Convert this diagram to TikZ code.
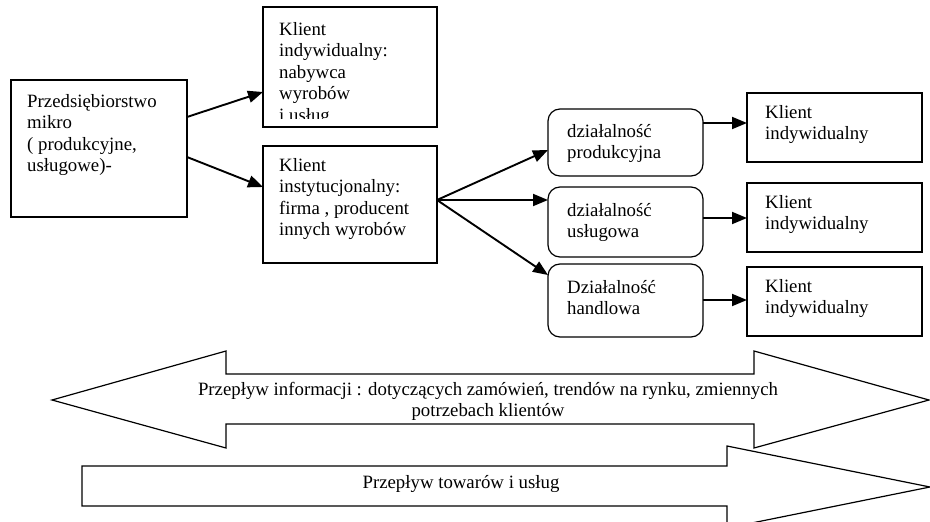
\documentclass[tikz,border=0pt]{standalone}
\usepackage{fontspec}
\setmainfont{Liberation Serif}
\usetikzlibrary{arrows.meta,calc}
\newcommand{\stack}[2][l]{\begin{tabular}[t]{@{}#1@{}}#2\end{tabular}}
\begin{document}
\begin{tikzpicture}[x=1pt,y=-1pt,
  box/.style={draw,line width=1.2pt,inner sep=0pt,outer sep=0pt},
  rbox/.style={box,rounded corners=12pt},
  txt/.style={anchor=base west,inner sep=0pt,font=\fontsize{18.8}{21.5}\selectfont},
  ctxt/.style={txt,anchor=base},
  conn/.style={line width=1.9pt,-{Triangle[length=15pt,width=12pt]}},
  flow/.style={draw,line width=1.2pt,line join=miter}]
\useasboundingbox (0,0) rectangle (930,522);
\clip (0,0) rectangle (930,522);

% boxes
\node[box,minimum width=176pt,minimum height=137pt] (lb) at (99,148.5) {};
\node[box,minimum width=174pt,minimum height=120pt] (t1) at (350,67) {};
\node[box,minimum width=174pt,minimum height=117pt] (t2) at (350,204.5) {};
\node[rbox,minimum width=155pt,minimum height=67pt] (r1) at (625.5,142.5) {};
\node[rbox,minimum width=155pt,minimum height=70pt] (r2) at (625.5,222) {};
\node[rbox,minimum width=155pt,minimum height=73pt] (r3) at (625.5,300.5) {};
\node[box,minimum width=175pt,minimum height=69pt] (k1) at (834.5,127.5) {};
\node[box,minimum width=175pt,minimum height=69pt] (k2) at (834.5,217.5) {};
\node[box,minimum width=175pt,minimum height=69pt] (k3) at (834.5,301.5) {};

% box texts
\node[txt] (lbt) at (27,107) {\stack{Przedsiębiorstwo\\mikro\\( produkcyjne,\\usługowe)-}};
\begin{scope}
  \clip (263,7) rectangle (437,118.5);
  \node[txt] (t1t) at (279,35) {\stack{Klient\\indywidualny:\\nabywca\\wyrobów\\i usług}};
\end{scope}
\node[txt] (t2t) at (279,171) {\stack{Klient\\instytucjonalny:\\firma , producent\\innych wyrobów}};
\node[txt] (r1t) at (567,137) {\stack{działalność\\produkcyjna}};
\node[txt] (r2t) at (567,216) {\stack{działalność\\usługowa}};
\node[txt] (r3t) at (567,293) {\stack{Działalność\\handlowa}};
\node[txt] (k1t) at (765,118) {\stack{Klient\\indywidualny}};
\node[txt] (k2t) at (765,208) {\stack{Klient\\indywidualny}};
\node[txt] (k3t) at (765,292) {\stack{Klient\\indywidualny}};

% connectors from the enterprise
\draw[conn] ($(lb.east)+(0,-31.5)$) -- ($(t1.west)+(0,25)$);
\draw[conn] ($(lb.east)+(0,8.5)$) -- ($(t2.west)+(0,-17.5)$);

% fan to the three kinds of activity
\coordinate (fan) at ($(t2.east)+(0,-4.5)$);
\draw[conn] (fan) -- ($(r1.west)+(0,7.5)$);
\draw[conn] (fan) -- ($(r2.west)+(0,-22)$);
\draw[conn] (fan) -- ($(r3.west)+(0,-25.5)$);

% activities to individual clients
\coordinate (a1) at ($(r1.east)+(0,-19.5)$);
\coordinate (a2) at ($(r2.east)+(0,-4)$);
\coordinate (a3) at ($(r3.east)+(0,-0.5)$);
\draw[conn] (a1) -- (k1.west |- a1);
\draw[conn] (a2) -- (k2.west |- a2);
\draw[conn] (a3) -- (k3.west |- a3);

% information flow: double-headed block arrow
\path[flow] (52,400) -- (226,351) -- (226,374) -- (754,374) -- (754,351)
  -- (929,400) -- (754,448) -- (754,424) -- (226,424) -- (226,448) -- cycle;
\begin{scope}
  \clip (52,374) rectangle (929,421);
  \node[ctxt] (info) at (488,395) {\stack[c]{Przepływ informacji : dotyczących zamówień, trendów na rynku, zmiennych\\potrzebach klientów}};
\end{scope}

% goods flow: single block arrow
\path[flow] (82,466) -- (727,466) -- (727,446) -- (930,487) -- (727,528)
  -- (727,506) -- (82,506) -- cycle;
\node[ctxt] (goods) at (461,488) {Przepływ towarów i usług};
\end{tikzpicture}
\end{document}
